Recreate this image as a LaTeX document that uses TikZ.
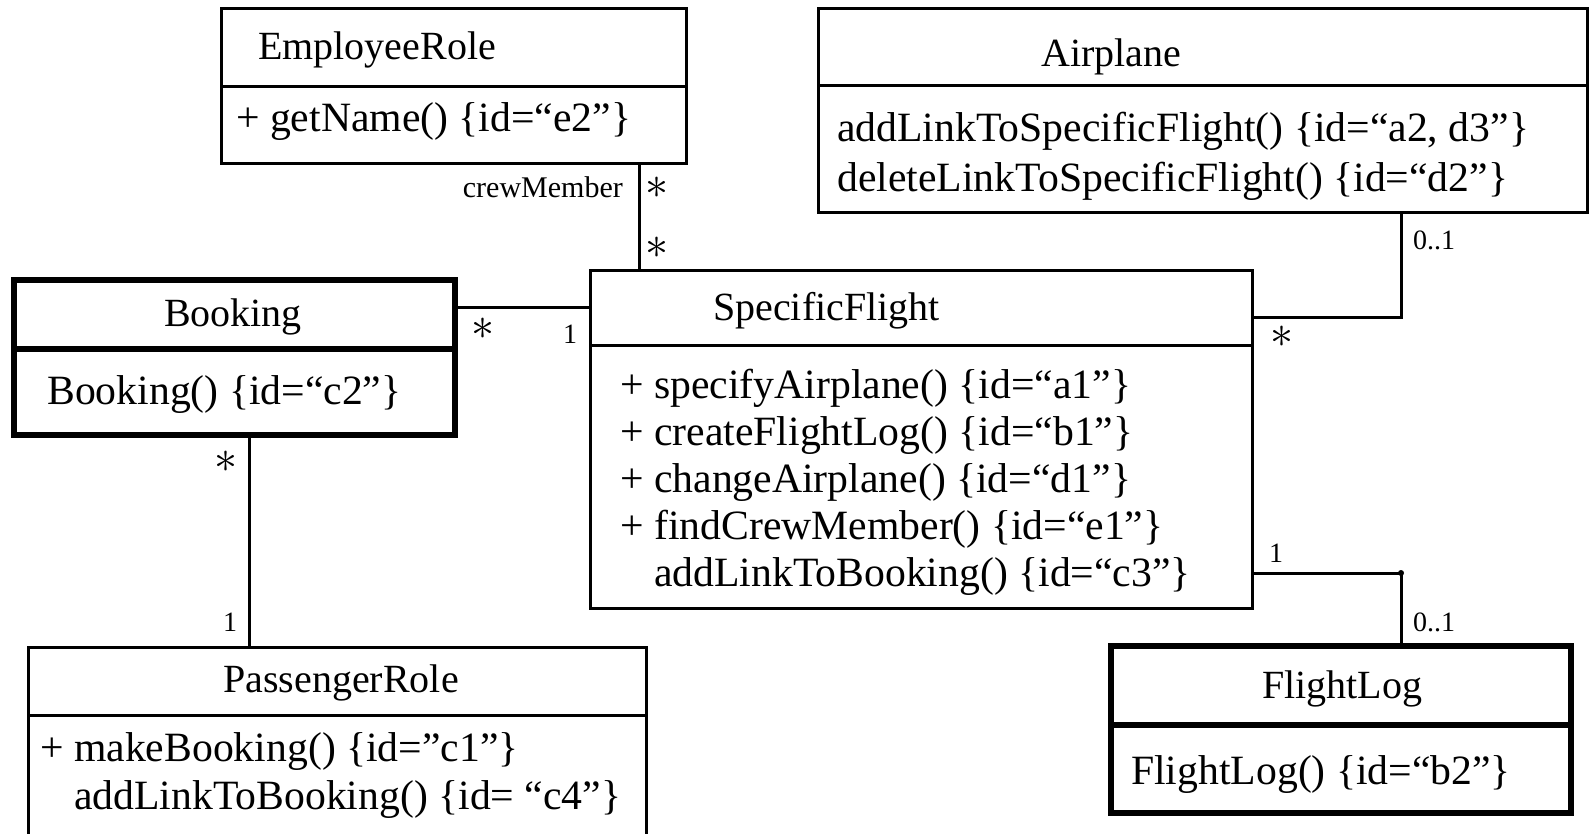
\documentclass[tikz,border=0pt]{standalone}
\usepackage{fontspec}
\setmainfont{Liberation Serif}
\usepackage{graphicx}
\newcommand{\ttlfont}{\fontsize{40}{46}\selectfont}
\newcommand{\mthfont}{\fontsize{41.7}{48}\selectfont}
\newcommand{\lblfont}{\fontsize{28}{32}\selectfont}
\newcommand{\rolefont}{\fontsize{30}{34}\selectfont}
\newcommand{\mult}{\scalebox{1.85}{\fontsize{24}{28}\selectfont$\ast$}}
\begin{document}
\begin{tikzpicture}[x=1pt,y=-1pt,
  cls/.style={draw, rectangle, line width=3pt, inner sep=0pt, outer sep=0pt, anchor=north west},
  thickcls/.style={cls, line width=5.5pt},
  ttl/.style={font=\ttlfont, inner sep=0pt, anchor=base west},
  ttlc/.style={font=\ttlfont, inner sep=0pt, anchor=base},
  mth/.style={font=\mthfont, inner sep=0pt, anchor=base west},
  lbl/.style={font=\lblfont, inner sep=0pt},
  mul/.style={inner sep=0pt, anchor=center},
  conn/.style={line width=3pt}]
\useasboundingbox (0,0) rectangle (1589,834);
\clip (0,0) rectangle (1589,834);

% EmployeeRole
\node[cls, minimum width=465pt, minimum height=78pt] (empH) at (221,9) {};
\node[cls, minimum width=465pt, minimum height=77pt] (empB) at (empH.south west) {};
\node[ttl] (empT) at (258,60) {EmployeeRole};
\node[mth] (empM) at (236,132) {+ getName() \{id=“e2”\}};

% Airplane
\node[cls, minimum width=769pt, minimum height=77pt] (apH) at (818,9) {};
\node[cls, minimum width=769pt, minimum height=127pt] (apB) at (apH.south west) {};
\node[ttl] (apT) at (1041,67) {Airplane};
\node[mth] (apM1) at (837,142) {addLinkToSpecificFlight() \{id=“a2, d3”\}};
\node[mth] (apM2) at (837,192) {deleteLinkToSpecificFlight() \{id=“d2”\}};

% SpecificFlight
\node[cls, minimum width=662pt, minimum height=75pt] (sfH) at (590,270) {};
\node[cls, minimum width=662pt, minimum height=263pt] (sfB) at (sfH.south west) {};
\node[ttl] (sfT) at (713,320) {SpecificFlight};
\node[mth] (sfM1) at (620,398) {+ specifyAirplane() \{id=“a1”\}};
\node[mth] (sfM2) at (620,445) {+ createFlightLog() \{id=“b1”\}};
\node[mth] (sfM3) at (620,492) {+ changeAirplane() \{id=“d1”\}};
\node[mth] (sfM4) at (620,539) {+ findCrewMember() \{id=“e1”\}};
\node[mth] (sfM5) at (620,586) {\phantom{+ }addLinkToBooking() \{id=“c3”\}};

% Booking
\node[thickcls, minimum width=441pt, minimum height=69pt] (bkH) at (14,280) {};
\node[thickcls, minimum width=441pt, minimum height=86pt] (bkB) at (bkH.south west) {};
\node[ttlc] (bkT) at (233,326) {Booking};
\node[mth] (bkM) at (47,404) {Booking() \{id=“c2”\}};

% PassengerRole
\node[cls, minimum width=618pt, minimum height=68pt] (prH) at (28,647) {};
\node[cls, minimum width=618pt, minimum height=150pt] (prB) at (prH.south west) {};
\node[ttlc] (prT) at (341,692) {PassengerRole};
\node[mth] (prM1) at (40,761) {+ makeBooking() \{id=”c1”\}};
\node[mth] (prM2) at (40,809) {\phantom{+ }addLinkToBooking() \{id= “c4”\}};

% FlightLog
\node[thickcls, minimum width=460pt, minimum height=79pt] (flH) at (1111,646) {};
\node[thickcls, minimum width=460pt, minimum height=88pt] (flB) at (flH.south west) {};
\node[ttlc] (flT) at (1342,698) {FlightLog};
\node[mth] (flM) at (1131,784) {FlightLog() \{id=“b2”\}};

% connector guide coordinates
\coordinate (x1) at (639,0);
\coordinate (y2) at (0,307);
\coordinate (x3) at (249,0);
\coordinate (x4) at (1401,0);
\coordinate (y4) at (0,317);
\coordinate (y5) at (0,573);

% connectors
\draw[conn] (empB.south -| x1) -- (sfH.north -| x1);
\draw[conn] (bkH.east |- y2) -- (sfH.west |- y2);
\draw[conn] (bkB.south -| x3) -- (prH.north -| x3);
\draw[conn] (sfH.east |- y4) -| (apB.south -| x4);
\draw[conn] (sfB.east |- y5) -| (flH.north -| x4);
\fill (x4 |- y5) circle (3pt);

% labels
\node[font=\rolefont, inner sep=0pt, anchor=base east] (lCrew) at (623,198) {crewMember};
\node[mul] (m1) at (657,188) {\mult};
\node[mul] (m2) at (657,248) {\mult};
\node[mul] (m3) at (483,329) {\mult};
\node[lbl, anchor=base] (l1) at (570,343) {1};
\node[mul] (m4) at (226,462) {\mult};
\node[lbl, anchor=base] (l2) at (230,631) {1};
\node[mul] (m5) at (1282,337) {\mult};
\node[lbl, anchor=base west] (l3) at (1413,250) {0..1};
\node[lbl, anchor=base] (l4) at (1276,562) {1};
\node[lbl, anchor=base west] (l5) at (1413,631) {0..1};
\end{tikzpicture}
\end{document}
